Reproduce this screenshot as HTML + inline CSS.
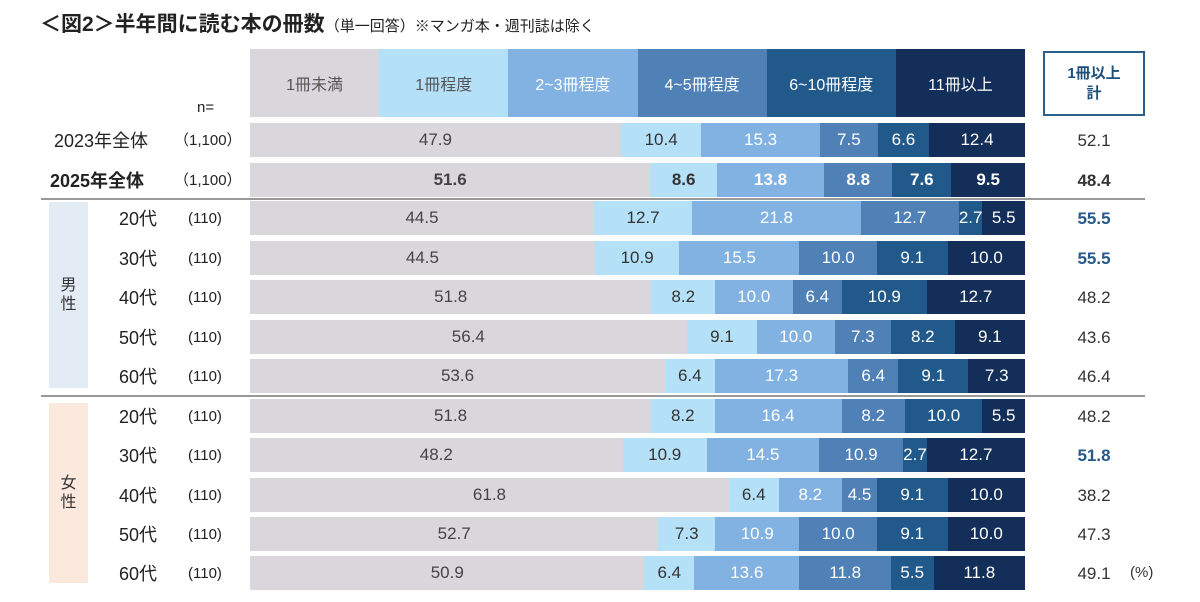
<!DOCTYPE html>
<html><head><meta charset="utf-8"><style>
body{margin:0;width:1200px;height:602px;background:#fff;font-family:"Liberation Sans","Noto Sans CJK JP",sans-serif;position:relative;overflow:hidden;color:#333}
.a{position:absolute}
.title{left:40px;top:8px;font-size:21px;font-weight:bold;color:#222;white-space:nowrap}
.title span{font-size:15px;font-weight:normal}
.hdr{left:250px;top:49px;width:775px;height:68px;display:flex}
.hdr div{flex:1;display:flex;align-items:center;justify-content:center;font-size:16px}
.row{left:250px;width:775px;height:34px;display:flex}
.row div{display:flex;align-items:center;justify-content:center;font-size:17px;white-space:nowrap;overflow:visible}
.c1{background:#d9d7db;color:#444}.c2{background:#b5e1f8;color:#333}.c3{background:#82b2e2;color:#fff}.c4{background:#4f81b7;color:#fff}.c5{background:#215a8a;color:#fff}.c6{background:#132e58;color:#fff}
.b div{font-weight:bold}
.lab,.n,.v{height:34px;line-height:36px;white-space:nowrap}
.lab{font-size:18px;color:#222}
.n{font-size:15px;color:#222}
.v{left:1043px;width:102px;text-align:center;font-size:17px;color:#333}
.blue{color:#275a8a;font-weight:bold}
.sep{left:41px;width:1104px;height:2px;background:#999}
</style></head><body>
<div class="a title">＜図2＞半年間に読む本の冊数<span>（単一回答）※マンガ本・週刊誌は除く</span></div>
<div class="a hdr"><div class="c1" style="color:#555">1冊未満</div><div class="c2" style="color:#555">1冊程度</div><div class="c3">2~3冊程度</div><div class="c4">4~5冊程度</div><div class="c5">6~10冊程度</div><div class="c6">11冊以上</div></div>
<div class="a" style="left:1043px;top:51px;width:98px;height:61px;border:2px solid #2a6089;display:flex;align-items:center;justify-content:center;text-align:center;font-size:15px;font-weight:bold;color:#1f4f7a;line-height:20px">1冊以上<br>計</div>
<div class="a n" style="left:197px;top:90px">n=</div>

<div class="a lab" style="left:54px;top:123px">2023年全体</div><div class="a n" style="left:174px;top:123px">（1,100）</div>
<div class="a lab" style="left:50px;top:163px;font-weight:bold">2025年全体</div><div class="a n" style="left:174px;top:163px">（1,100）</div>
<div class="a sep" style="top:198px"></div>
<div class="a sep" style="top:395px"></div>
<div class="a" style="left:49px;top:202px;width:39px;height:186px;background:#e3ebf5;display:flex;align-items:center;justify-content:center;font-size:16px;line-height:19px;text-align:center">男<br>性</div>
<div class="a" style="left:49px;top:403px;width:39px;height:180px;background:#fbe9dd;display:flex;align-items:center;justify-content:center;font-size:16px;line-height:19px;text-align:center">女<br>性</div>

<div class="a lab" style="left:119px;top:201px">20代</div><div class="a n" style="left:188px;top:201px">(110)</div>
<div class="a lab" style="left:119px;top:241px">30代</div><div class="a n" style="left:188px;top:241px">(110)</div>
<div class="a lab" style="left:119px;top:280px">40代</div><div class="a n" style="left:188px;top:280px">(110)</div>
<div class="a lab" style="left:119px;top:320px">50代</div><div class="a n" style="left:188px;top:320px">(110)</div>
<div class="a lab" style="left:119px;top:359px">60代</div><div class="a n" style="left:188px;top:359px">(110)</div>
<div class="a lab" style="left:119px;top:399px">20代</div><div class="a n" style="left:188px;top:399px">(110)</div>
<div class="a lab" style="left:119px;top:438px">30代</div><div class="a n" style="left:188px;top:438px">(110)</div>
<div class="a lab" style="left:119px;top:478px">40代</div><div class="a n" style="left:188px;top:478px">(110)</div>
<div class="a lab" style="left:119px;top:517px">50代</div><div class="a n" style="left:188px;top:517px">(110)</div>
<div class="a lab" style="left:119px;top:556px">60代</div><div class="a n" style="left:188px;top:556px">(110)</div>

<div class="a row" style="top:123px"><div class="c1" style="flex:47.9">47.9</div><div class="c2" style="flex:10.4">10.4</div><div class="c3" style="flex:15.3">15.3</div><div class="c4" style="flex:7.5">7.5</div><div class="c5" style="flex:6.6">6.6</div><div class="c6" style="flex:12.4">12.4</div></div>
<div class="a row b" style="top:163px"><div class="c1" style="flex:51.6">51.6</div><div class="c2" style="flex:8.6">8.6</div><div class="c3" style="flex:13.8">13.8</div><div class="c4" style="flex:8.8">8.8</div><div class="c5" style="flex:7.6">7.6</div><div class="c6" style="flex:9.5">9.5</div></div>
<div class="a row" style="top:201px"><div class="c1" style="flex:44.5">44.5</div><div class="c2" style="flex:12.7">12.7</div><div class="c3" style="flex:21.8">21.8</div><div class="c4" style="flex:12.7">12.7</div><div class="c5" style="flex:2.7">2.7</div><div class="c6" style="flex:5.5">5.5</div></div>
<div class="a row" style="top:241px"><div class="c1" style="flex:44.5">44.5</div><div class="c2" style="flex:10.9">10.9</div><div class="c3" style="flex:15.5">15.5</div><div class="c4" style="flex:10.0">10.0</div><div class="c5" style="flex:9.1">9.1</div><div class="c6" style="flex:10.0">10.0</div></div>
<div class="a row" style="top:280px"><div class="c1" style="flex:51.8">51.8</div><div class="c2" style="flex:8.2">8.2</div><div class="c3" style="flex:10.0">10.0</div><div class="c4" style="flex:6.4">6.4</div><div class="c5" style="flex:10.9">10.9</div><div class="c6" style="flex:12.7">12.7</div></div>
<div class="a row" style="top:320px"><div class="c1" style="flex:56.4">56.4</div><div class="c2" style="flex:9.1">9.1</div><div class="c3" style="flex:10.0">10.0</div><div class="c4" style="flex:7.3">7.3</div><div class="c5" style="flex:8.2">8.2</div><div class="c6" style="flex:9.1">9.1</div></div>
<div class="a row" style="top:359px"><div class="c1" style="flex:53.6">53.6</div><div class="c2" style="flex:6.4">6.4</div><div class="c3" style="flex:17.3">17.3</div><div class="c4" style="flex:6.4">6.4</div><div class="c5" style="flex:9.1">9.1</div><div class="c6" style="flex:7.3">7.3</div></div>
<div class="a row" style="top:399px"><div class="c1" style="flex:51.8">51.8</div><div class="c2" style="flex:8.2">8.2</div><div class="c3" style="flex:16.4">16.4</div><div class="c4" style="flex:8.2">8.2</div><div class="c5" style="flex:10.0">10.0</div><div class="c6" style="flex:5.5">5.5</div></div>
<div class="a row" style="top:438px"><div class="c1" style="flex:48.2">48.2</div><div class="c2" style="flex:10.9">10.9</div><div class="c3" style="flex:14.5">14.5</div><div class="c4" style="flex:10.9">10.9</div><div class="c5" style="flex:2.7">2.7</div><div class="c6" style="flex:12.7">12.7</div></div>
<div class="a row" style="top:478px"><div class="c1" style="flex:61.8">61.8</div><div class="c2" style="flex:6.4">6.4</div><div class="c3" style="flex:8.2">8.2</div><div class="c4" style="flex:4.5">4.5</div><div class="c5" style="flex:9.1">9.1</div><div class="c6" style="flex:10.0">10.0</div></div>
<div class="a row" style="top:517px"><div class="c1" style="flex:52.7">52.7</div><div class="c2" style="flex:7.3">7.3</div><div class="c3" style="flex:10.9">10.9</div><div class="c4" style="flex:10.0">10.0</div><div class="c5" style="flex:9.1">9.1</div><div class="c6" style="flex:10.0">10.0</div></div>
<div class="a row" style="top:556px"><div class="c1" style="flex:50.9">50.9</div><div class="c2" style="flex:6.4">6.4</div><div class="c3" style="flex:13.6">13.6</div><div class="c4" style="flex:11.8">11.8</div><div class="c5" style="flex:5.5">5.5</div><div class="c6" style="flex:11.8">11.8</div></div>

<div class="a v" style="top:123px">52.1</div>
<div class="a v" style="top:163px;font-weight:bold">48.4</div>
<div class="a v blue" style="top:201px">55.5</div>
<div class="a v blue" style="top:241px">55.5</div>
<div class="a v" style="top:280px">48.2</div>
<div class="a v" style="top:320px">43.6</div>
<div class="a v" style="top:359px">46.4</div>
<div class="a v" style="top:399px">48.2</div>
<div class="a v blue" style="top:438px">51.8</div>
<div class="a v" style="top:478px">38.2</div>
<div class="a v" style="top:517px">47.3</div>
<div class="a v" style="top:556px">49.1</div>
<div class="a" style="left:1130px;top:556px;height:34px;line-height:34px;font-size:15px;color:#333">(%)</div>
</body></html>
